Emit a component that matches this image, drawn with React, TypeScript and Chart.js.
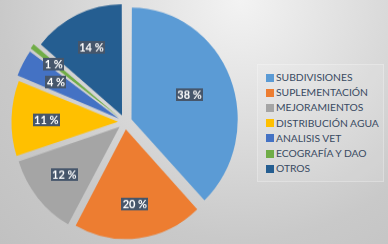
import React, { useEffect, useRef } from "react";
import { Chart, registerables } from "chart.js";

Chart.register(...registerables);

const categories = [
  "SUBDIVISIONES",
  "SUPLEMENTACIÓN",
  "MEJORAMIENTOS",
  "DISTRIBUCIÓN AGUA",
  "ANALISIS VET",
  "ECOGRAFÍA Y DAO",
  "OTROS",
];
const values = [38, 20, 12, 11, 4, 1, 14];
const colors = ["#5B9BD5", "#ED7D31", "#A5A5A5", "#FFC000", "#4472C4", "#70AD47", "#255E91"];

const labelPlugin = {
  id: "sliceLabels",
  afterDatasetsDraw(chart: any) {
    const ctx = chart.ctx;
    const meta = chart.getDatasetMeta(0);
    ctx.save();
    ctx.font = "bold 11px Lato, 'Open Sans', sans-serif";
    ctx.textAlign = "center";
    ctx.textBaseline = "middle";
    meta.data.forEach((arc: any, i: number) => {
      const { x, y, startAngle, endAngle, outerRadius } = arc.getProps(
        ["x", "y", "startAngle", "endAngle", "outerRadius"],
        true
      );
      const shift = (arc.options.offset || 0) / 4;
      const mid = (startAngle + endAngle) / 2;
      const f = values[i] > 30 ? 0.6 : values[i] < 2 ? 0.8 : 0.69;
      const r = outerRadius * f + shift;
      const lx = x + Math.cos(mid) * r;
      const ly = y + Math.sin(mid) * r;
      const text = values[i] + " %";
      const w = ctx.measureText(text).width + 3;
      const h = 12;
      ctx.fillStyle = "#46566B";
      ctx.fillRect(Math.round(lx - w / 2), Math.round(ly - h / 2), Math.round(w), h);
      ctx.fillStyle = "#FFFFFF";
      ctx.fillText(text, lx, ly + 0.5);
    });
    ctx.restore();
  },
};

export default function App() {
  const ref = useRef<HTMLCanvasElement | null>(null);
  useEffect(() => {
    if (!ref.current) return;
    const chart = new Chart(ref.current, {
      type: "pie",
      data: {
        labels: categories,
        datasets: [
          {
            data: values,
            backgroundColor: colors,
            borderWidth: 0,
            offset: 28,
            hoverOffset: 0,
          },
        ],
      },
      options: {
        animation: false,
        responsive: false,
        radius: 104,
        events: [],
        plugins: {
          legend: { display: false },
          tooltip: { enabled: false },
        },
      } as any,
      plugins: [labelPlugin],
    });
    return () => chart.destroy();
  }, []);

  return (
    <div
      style={{
        position: "absolute",
        left: 0,
        top: 0,
        width: 388,
        height: 244,
        overflow: "hidden",
        background:
          "radial-gradient(circle farthest-corner at 62% 0%, #f3f3f3 0%, #dadada 42%, #c9c9c9 70%, #c1c1c1 100%)",
        fontFamily: "Lato, 'Open Sans', sans-serif",
      }}
    >
      <div
        style={{
          position: "absolute",
          left: 0,
          top: 0,
          width: 250,
          height: 232,
          transform: "scaleY(1.0517)",
          transformOrigin: "0 0",
        }}
      >
        <canvas ref={ref} width={250} height={232} />
      </div>
      <div
        style={{
          position: "absolute",
          left: 257,
          top: 64,
          width: 127,
          height: 118,
          boxSizing: "border-box",
          background: "rgba(255,255,255,0.10)",
          border: "1px solid rgba(255,255,255,0.25)",
          paddingTop: 5,
        }}
      >
        {categories.map((c, i) => (
          <div
            key={c}
            style={{
              display: "flex",
              alignItems: "center",
              height: 15.2,
              paddingLeft: 8,
              whiteSpace: "nowrap",
            }}
          >
            <span
              style={{
                display: "inline-block",
                width: 8,
                height: 8,
                background: colors[i],
                marginRight: 2,
              }}
            />
            <span style={{ fontSize: 10.3, color: "#394A62", lineHeight: "15px" }}>{c}</span>
          </div>
        ))}
      </div>
    </div>
  );
}
